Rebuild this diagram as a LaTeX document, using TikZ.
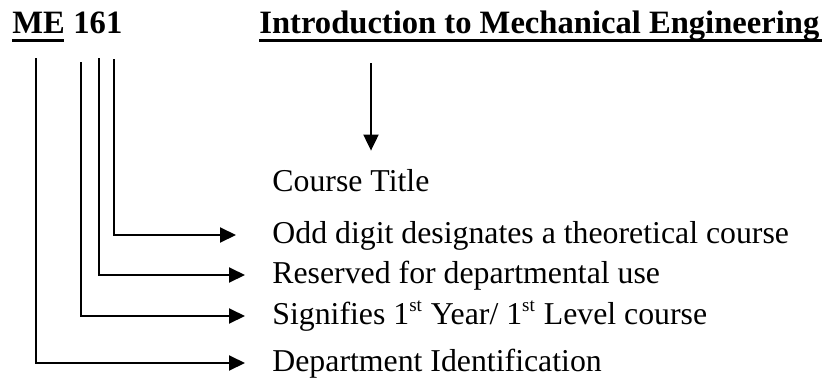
\documentclass[tikz,border=0pt]{standalone}
\usepackage{fontspec}
\setmainfont{Liberation Serif}
\usetikzlibrary{arrows.meta}

\begin{document}
\begin{tikzpicture}[x=0.5pt,y=-0.5pt,
    heading/.style={anchor=base west,inner sep=0pt,font=\fontsize{16.3pt}{19pt}\selectfont\bfseries},
    label/.style={anchor=west,inner sep=0pt,text height=0.8em,text depth=0pt,
      font=\fontsize{15.9pt}{18pt}\selectfont},
    uline/.style={line width=1.5pt},
    arr/.style={line width=1pt,-{Triangle[length=8pt,width=7.5pt]}}]
  \useasboundingbox (0,0) rectangle (824,380);

  % Course code and title
  \node[heading] (me) at (12,33) {ME};
  \node[heading] (num) at (73,33) {161};
  \node[heading] (title) at (259,33) {Introduction to Mechanical Engineering};
  \draw[uline] (me.base west) ++(0,7) -- ++(52,0);
  \draw[uline] (title.base west) ++(0,7) -- ++(563,0);

  % Explanations
  \node[label] (course) at (272,183) {Course Title};
  \node[label] (odd) at (272,235) {Odd digit designates a theoretical course};
  \node[label] (res) at (272,275) {Reserved for departmental use};
  \node[label] (year) at (272,316) {Signifies 1\textsuperscript{\fontsize{9.5pt}{10pt}\selectfont st} Year/ 1\textsuperscript{\fontsize{9.5pt}{10pt}\selectfont st} Level course};
  \node[label] (dept) at (272,363) {Department Identification};

  % Line starts under the code
  \coordinate (d1) at (36,58);
  \coordinate (d2) at (81,62);
  \coordinate (d3) at (99,58);
  \coordinate (d4) at (114,59);
  \coordinate (c0) at (371,63);

  \draw[arr,shorten >=12pt] (c0) -- (c0 |- course.north);
  \draw[arr,shorten >=18pt] (d4) |- (odd.west);
  \draw[arr,shorten >=13.5pt] (d3) |- (res.west);
  \draw[arr,shorten >=13.5pt] (d2) |- (year.west);
  \draw[arr,shorten >=13.5pt] (d1) |- (dept.west);
\end{tikzpicture}
\end{document}
